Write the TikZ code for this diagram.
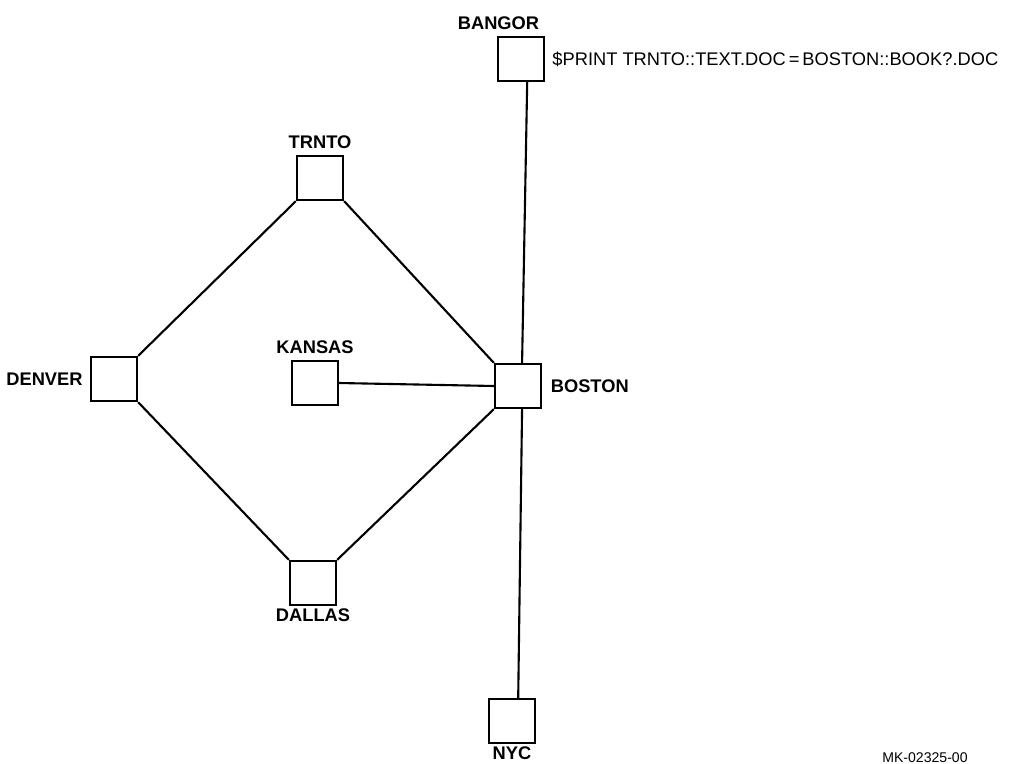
\documentclass[tikz,border=0pt]{standalone}
\usepackage{fontspec}
\setmainfont{Liberation Sans}
\usetikzlibrary{positioning}

\begin{document}
\begin{tikzpicture}[x=0.025cm, y=-0.025cm,
    site/.style={draw, line width=1.6pt, minimum width=1.15cm, minimum height=1.1cm, inner sep=0pt},
    tag/.style={font=\bfseries\fontsize{13}{14}\selectfont, inner sep=1pt},
    link/.style={line width=1.5pt}]
    \useasboundingbox (0,0) rectangle (1009,764);
    % nodes of the network
    \node[site] (bangor) at (521,59) {};
    \node[site] (trnto) at (320,178) {};
    \node[site] (denver) at (114,379) {};
    \node[site] (kansas) at (315,383) {};
    \node[site] (boston) at (518,386) {};
    \node[site] (dallas) at (313,583) {};
    \node[site] (nyc) at (512,721) {};
    % names
    \node[tag, above=3pt of bangor, xshift=-16] (bangorname) {BANGOR};
    \node[tag, above=3pt of trnto] (trntoname) {TRNTO};
    \node[tag, left=4pt of denver] (denvername) {DENVER};
    \node[tag, above=3pt of kansas] (kansasname) {KANSAS};
    \node[tag, right=5pt of boston] (bostonname) {BOSTON};
    \node[tag, below=1pt of dallas] (dallasname) {DALLAS};
    \node[tag, below=1pt of nyc] (nycname) {NYC};
    \node[right=4pt of bangor, inner sep=1pt, font=\fontsize{13}{15}\selectfont] (cmd)
        {\$PRINT TRNTO::TEXT.DOC\,=\,BOSTON::BOOK?.DOC};
    \node[font=\fontsize{10}{11}\selectfont, inner sep=0pt] (fig) at (925,758) {MK-02325-00};
    % lines
    \draw[link] (bangor.-75) -- (boston.80);
    \draw[link] (boston.-80) -- (nyc.75);
    \draw[link] (trnto.south west) -- (denver.north east);
    \draw[link] (trnto.south east) -- (boston.north west);
    \draw[link] (denver.south east) -- (dallas.north west);
    \draw[link] (dallas.north east) -- (boston.south west);
    \draw[link] (kansas.east) -- (boston.west);
\end{tikzpicture}
\end{document}
